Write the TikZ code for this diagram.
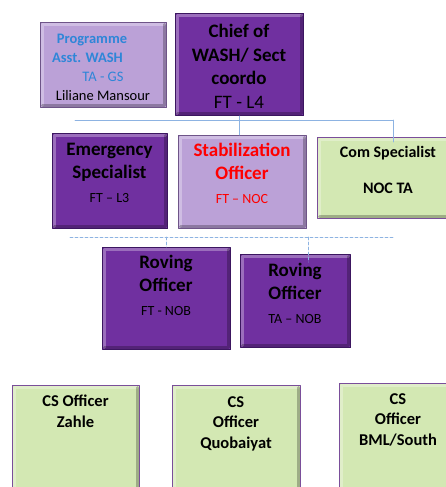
\documentclass[tikz,border=0pt]{standalone}
\usepackage{fontspec}
\setmainfont{Carlito}
\definecolor{darkpurple}{HTML}{7030A0}
\definecolor{darkedge}{HTML}{3C1660}
\definecolor{lightpurple}{HTML}{BBA1D7}
\definecolor{lightedge}{HTML}{6E5488}
\definecolor{lightgreen}{HTML}{D3E8B3}
\definecolor{greenedge}{HTML}{7A4E9A}
\definecolor{linkblue}{HTML}{8DB3E2}
\definecolor{progblue}{HTML}{2E86D8}
\begin{document}
\begin{tikzpicture}[x=1pt, y=-1pt, line join=round, line cap=round,
	box/.style={rectangle, anchor=north west, inner sep=0pt, line width=1pt,
		path picture={
			\draw[white, opacity=0.3, line width=3pt]
				([shift={(2pt,2pt)}]path picture bounding box.south west)
				-- ([shift={(2pt,-2pt)}]path picture bounding box.north west)
				-- ([shift={(-2pt,-2pt)}]path picture bounding box.north east);
			\draw[black, opacity=0.25, line width=3pt]
				([shift={(-2pt,-2pt)}]path picture bounding box.north east)
				-- ([shift={(-2pt,2pt)}]path picture bounding box.south east)
				-- ([shift={(2pt,2pt)}]path picture bounding box.south west);}},
	darkbox/.style={box, fill=darkpurple, draw=darkedge},
	lightbox/.style={box, fill=lightpurple, draw=lightedge},
	greenbox/.style={box, fill=lightgreen, draw=greenedge},
	txt/.style={anchor=base, align=center, inner sep=0pt},
	big/.style={font=\bfseries\fontsize{19}{23.5}\selectfont},
	conn/.style={draw=linkblue, line width=0.8pt},
	dconn/.style={conn, dashed, dash pattern=on 3pt off 2pt}]
	\clip (0,0) rectangle (446,487);
	
	% Hàng trên (text đặt theo baseline dòng cuối)
	\node[lightbox, minimum width=126pt, minimum height=85pt] (prog) at (40,22) {};
	\node[darkbox, minimum width=128pt, minimum height=102pt] (chief) at (175,13) {};
	\node[txt, font=\bfseries\fontsize{14.5}{19}\selectfont, text=progblue] (progt) at (103,100)
		{\hspace*{-22pt}Programme\\\hspace*{-31pt}Asst. WASH\\{\mdseries TA - GS}\\{\mdseries\color{black}Liliane Mansour}};
	\node[txt, big] (chieft) at (239,108) {Chief of\\WASH/ Sect\\coordo\\{\mdseries FT - L4}};
	
	% Hàng giữa
	\node[darkbox, minimum width=115pt, minimum height=95pt] (emerg) at (52,133) {};
	\node[lightbox, minimum width=128pt, minimum height=93pt] (stab) at (178,135) {};
	\node[greenbox, minimum width=145pt, minimum height=81pt] (com) at (317,137) {};
	\node[txt, big] (emergt) at (109.5,202) {Emergency\\Specialist\\{\mdseries\fontsize{14}{17}\selectfont FT -- L3}};
	\node[txt, big, text=red] (stabt) at (242,203) {Stabilization\\Officer\\{\mdseries\fontsize{14}{17}\selectfont FT -- NOC}};
	\node[txt, font=\bfseries\fontsize{16}{19}\selectfont] (comt) at (388,193) {Com Specialist\\[17pt]NOC TA};
	
	% Roving
	\node[darkbox, minimum width=128pt, minimum height=102pt] (rov1) at (102,247) {};
	\node[darkbox, minimum width=110pt, minimum height=93pt] (rov2) at (240,254) {};
	\node[txt, big] (rov1t) at (166,315) {Roving\\Officer\\{\mdseries\fontsize{14}{17}\selectfont FT - NOB}};
	\node[txt, big] (rov2t) at (295,323) {Roving\\Officer\\{\mdseries\fontsize{14}{17}\selectfont TA -- NOB}};
	
	% CS officers
	\node[greenbox, minimum width=127pt, minimum height=115pt] (zahle) at (12,385) {};
	\node[greenbox, minimum width=128pt, minimum height=115pt] (quob) at (172,385) {};
	\node[greenbox, minimum width=118pt, minimum height=115pt] (bml) at (339,383) {};
	\node[txt, font=\bfseries\fontsize{16.5}{20.5}\selectfont] (zahlet) at (75.5,427) {CS Officer\\Zahle};
	\node[txt, font=\bfseries\fontsize{16.5}{20.5}\selectfont] (quobt) at (236,448) {CS\\Officer\\Quobaiyat};
	\node[txt, font=\bfseries\fontsize{16.5}{20.5}\selectfont] (bmlt) at (398,445) {CS\\Officer\\BML/South};
	
	% Đường nối
	\coordinate (busL) at (75,120);
	\coordinate (busR) at (393,120);
	\draw[conn] (busL) -- (busR);
	\draw[conn] (chief.south) -- (chief.south |- stab.north);
	\draw[conn] (busR) -- ([yshift=-5pt]busR |- com.north);
	\coordinate (dbusL) at (70,237);
	\coordinate (dbusR) at (393,237);
	\draw[dconn] (dbusL) -- (dbusR);
	\draw[dconn] (rov1.north |- dbusL) -- (rov1.north);
	\draw[dconn] ([xshift=13pt]rov2.north |- dbusL) -- ([xshift=13pt,yshift=-8pt]rov2.north);
\end{tikzpicture}
\end{document}
